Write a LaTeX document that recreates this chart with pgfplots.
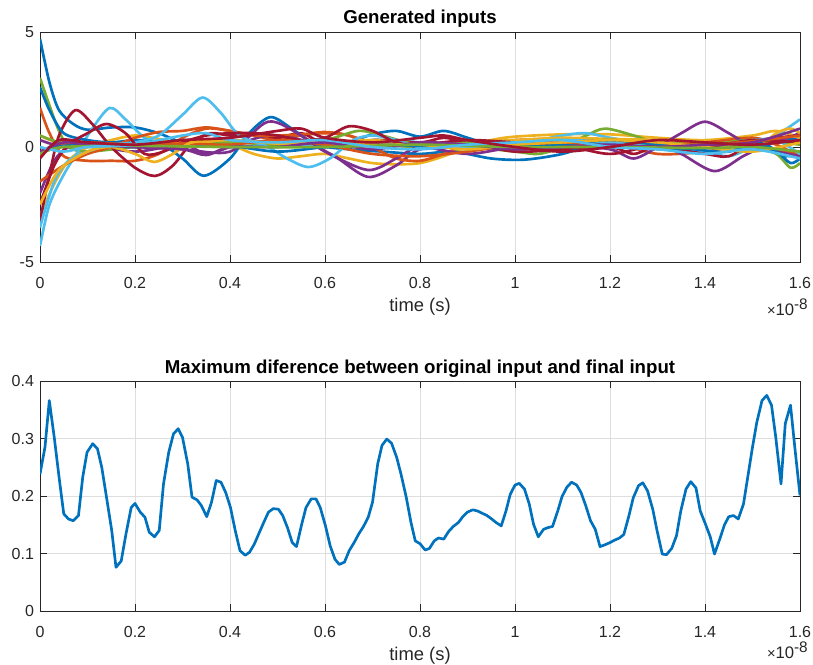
\documentclass[border=0pt]{standalone}
\usepackage{fontspec}
\setmainfont{Liberation Sans}
\usepackage{pgfplots}
\pgfplotsset{compat=1.18}
\definecolor{mb}{HTML}{0072BD}
\definecolor{mo}{HTML}{D95319}
\definecolor{my}{HTML}{EDB120}
\definecolor{mp}{HTML}{7E2F8E}
\definecolor{mg}{HTML}{77AC30}
\definecolor{mc}{HTML}{4DBEEE}
\definecolor{mr}{HTML}{A2142F}
\definecolor{axc}{HTML}{262626}
\pgfplotsset{
  mstyle/.style={
    width=570pt, height=172.5pt, scale only axis,
    xmin=0, xmax=1.6,
    xtick={0,0.2,0.4,0.6,0.8,1,1.2,1.4,1.6},
    xticklabels={0,0.2,0.4,0.6,0.8,1,1.2,1.4,1.6},
    grid=major,
    grid style={color=black!13, line width=0.5pt},
    axis line style={color=axc, line width=0.6pt},
    tick style={color=axc, line width=0.6pt},
    tick align=inside,
    major tick length=5pt,
    /pgf/number format/assume math mode=true,
    ticklabel style={font=\fontsize{12}{14}\selectfont, text=axc},
    xticklabel style={anchor=base, yshift=-19.5pt},
    yticklabel style={xshift=-1pt},
    xlabel style={font=\fontsize{13.8}{15}\selectfont, text=axc, at={(0.5,0)}, anchor=base, yshift=-37pt},
    title style={font=\fontsize{14}{16}\selectfont\bfseries, at={(0.5,1)}, anchor=base, yshift=0pt},
    every axis plot/.append style={line width=2pt, line join=round},
  }
}
\newcommand{\tenexp}{{\fontsize{11}{12}\selectfont ×}10\raisebox{0.65ex}{\fontsize{11.5}{12}\selectfont -8}}
\begin{document}
\begin{tikzpicture}
\begin{axis}[mstyle, name=ax1, ymin=-5, ymax=5, ytick={-5,0,5},
  title={Generated inputs}, xlabel={time (s)}]
% blue 1
\addplot[mb, smooth] coordinates {(0,4.7) (0.02,2.8) (0.04,1.6) (0.07,1.0) (0.1,0.75) (0.15,0.85) (0.2,0.85) (0.25,0.6) (0.3,0.2) (0.35,0.25) (0.4,0.3) (0.45,0.2) (0.5,0.15) (0.55,0.1) (0.6,0) (0.65,0.2) (0.7,0.55) (0.75,0.7) (0.8,0.45) (0.85,0.7) (0.9,0.4) (0.95,0.1) (1.0,0.05) (1.1,0.2) (1.2,0.3) (1.3,0.15) (1.4,0) (1.5,0.2) (1.55,0.4) (1.6,0.3)};
% orange 1
\addplot[mo, smooth] coordinates {(0,1.7) (0.02,0.6) (0.05,-0.4) (0.1,-0.6) (0.15,-0.6) (0.2,-0.6) (0.25,-0.3) (0.3,0.4) (0.35,0.8) (0.4,0.7) (0.45,0.5) (0.5,0.3) (0.55,0.5) (0.6,0.6) (0.65,0.5) (0.7,0.2) (0.8,0.0) (0.9,0.1) (1.0,-0.1) (1.1,0.0) (1.2,0.2) (1.3,-0.3) (1.4,-0.2) (1.5,0.1) (1.6,-0.4)};
% yellow 1
\addplot[my, smooth] coordinates {(0,-3.0) (0.03,-1.6) (0.06,-0.6) (0.1,0.0) (0.15,0.3) (0.2,0.5) (0.25,0.35) (0.3,0.15) (0.35,0.2) (0.4,0.1) (0.45,-0.3) (0.5,-0.5) (0.55,-0.4) (0.6,-0.3) (0.65,-0.5) (0.7,-0.7) (0.75,-0.75) (0.8,-0.7) (0.85,-0.4) (0.9,0.0) (0.95,0.3) (1.0,0.45) (1.1,0.55) (1.2,0.55) (1.3,0.4) (1.4,0.3) (1.5,0.5) (1.55,0.7) (1.6,0.4)};
% purple 1
\addplot[mp, smooth] coordinates {(0,-2.0) (0.03,-0.6) (0.06,0.0) (0.1,0.1) (0.2,-0.2) (0.3,0.1) (0.35,-0.3) (0.4,0.0) (0.48,0.5) (0.55,0.3) (0.62,-0.4) (0.69,-1.3) (0.75,-0.8) (0.8,-0.1) (0.9,0.2) (1.0,0.1) (1.1,0.0) (1.2,0.0) (1.3,0.1) (1.35,-0.3) (1.42,-1.05) (1.48,-0.4) (1.52,0.0) (1.56,0.3) (1.6,0.6)};
% green 1
\addplot[mg, smooth] coordinates {(0,3.0) (0.02,1.8) (0.04,0.7) (0.06,0.0) (0.1,-0.2) (0.2,0.0) (0.3,0.05) (0.4,0.0) (0.5,0.1) (0.6,0.1) (0.7,0.1) (0.8,0.0) (0.9,0.0) (1.0,-0.2) (1.05,-0.3) (1.1,0.0) (1.15,0.5) (1.19,0.8) (1.25,0.5) (1.3,0.2) (1.4,0.2) (1.5,0.0) (1.55,-0.3) (1.58,-0.9) (1.6,-0.7)};
% light blue 1
\addplot[mc, smooth] coordinates {(0,-4.3) (0.02,-2.5) (0.05,-1.2) (0.08,-0.2) (0.11,0.8) (0.147,1.7) (0.18,1.2) (0.22,0.4) (0.26,0.1) (0.3,0.3) (0.35,0.2) (0.4,0.0) (0.5,0.1) (0.6,0.0) (0.7,0.3) (0.8,0.2) (0.9,-0.1) (1.0,0.1) (1.1,0.5) (1.15,0.6) (1.2,0.4) (1.3,0.1) (1.4,-0.2) (1.45,-0.4) (1.5,0.0) (1.55,0.5) (1.6,1.2)};
% dark red 1
\addplot[mr, smooth] coordinates {(0,-3.2) (0.02,-1.2) (0.04,0.5) (0.074,1.6) (0.11,1.0) (0.15,0.0) (0.2,-0.9) (0.242,-1.26) (0.28,-0.8) (0.32,0.2) (0.36,0.6) (0.4,0.5) (0.45,0.6) (0.5,0.4) (0.55,0.6) (0.6,0.1) (0.65,0.0) (0.7,0.3) (0.8,0.2) (0.85,0.4) (0.9,0.2) (1.0,-0.2) (1.1,-0.1) (1.2,0.0) (1.25,-0.3) (1.3,0.0) (1.4,-0.3) (1.45,-0.4) (1.5,0.2) (1.55,0.4) (1.6,0.5)};
% blue 2
\addplot[mb, smooth] coordinates {(0,2.6) (0.02,1.6) (0.05,0.6) (0.1,0.3) (0.15,0.2) (0.2,0.3) (0.25,0.2) (0.3,-0.5) (0.345,-1.25) (0.4,-0.5) (0.44,0.6) (0.485,1.3) (0.53,0.8) (0.58,0.1) (0.65,-0.1) (0.72,-0.2) (0.8,-0.3) (0.87,-0.2) (0.95,-0.5) (1.02,-0.55) (1.1,-0.3) (1.18,0.2) (1.25,0.0) (1.32,-0.1) (1.4,0.0) (1.47,0.3) (1.52,0.2) (1.57,-0.4) (1.6,-0.2)};
% orange 2
\addplot[mo, smooth] coordinates {(0,-1.5) (0.05,-0.8) (0.1,-0.3) (0.15,0.0) (0.2,0.4) (0.25,0.65) (0.3,0.7) (0.35,0.85) (0.4,0.7) (0.45,0.5) (0.5,0.5) (0.55,0.55) (0.6,0.65) (0.65,0.5) (0.7,0.0) (0.75,-0.5) (0.8,-0.6) (0.85,-0.3) (0.9,0.1) (1.0,0.3) (1.1,0.35) (1.2,0.25) (1.3,0.1) (1.4,0.2) (1.5,0.4) (1.55,0.1) (1.6,-0.4)};
% yellow 2
\addplot[my, smooth] coordinates {(0,0.5) (0.03,0.25) (0.08,0.15) (0.15,0.1) (0.2,0.15) (0.3,0.2) (0.4,0.2) (0.5,0.25) (0.6,0.2) (0.7,0.3) (0.8,0.1) (0.9,0.2) (1.0,0.3) (1.1,0.4) (1.2,0.35) (1.3,0.3) (1.4,0.2) (1.5,-0.1) (1.55,0.6) (1.58,0.8) (1.6,0.6)};
% purple 2
\addplot[mp, smooth] coordinates {(0,0.3) (0.05,0.0) (0.1,0.1) (0.2,0.0) (0.3,-0.1) (0.4,-0.2) (0.48,1.1) (0.55,0.5) (0.6,-0.2) (0.69,-1.0) (0.75,-0.5) (0.8,0.0) (0.9,-0.3) (1.0,0.0) (1.1,0.1) (1.2,-0.1) (1.25,-0.5) (1.3,0.0) (1.35,0.6) (1.4,1.1) (1.45,0.6) (1.5,0.0) (1.55,-0.2) (1.6,-0.4)};
% green 2
\addplot[mg, smooth] coordinates {(0,0.5) (0.04,0.2) (0.1,0.0) (0.2,0.1) (0.3,0.0) (0.4,0.2) (0.5,0.1) (0.6,0.3) (0.67,0.7) (0.72,0.5) (0.8,0.1) (0.9,0.2) (1.0,0.1) (1.1,0.2) (1.2,0.3) (1.3,0.1) (1.4,0.1) (1.5,0.3) (1.6,0.1)};
% light blue 2
\addplot[mc, smooth] coordinates {(0,-3.5) (0.03,-1.5) (0.06,-0.6) (0.1,-0.2) (0.15,0.1) (0.2,0.2) (0.25,0.5) (0.3,1.4) (0.342,2.15) (0.38,1.5) (0.42,0.5) (0.48,0.0) (0.52,-0.5) (0.565,-0.87) (0.61,-0.5) (0.66,0.3) (0.7,0.5) (0.75,0.3) (0.8,0.0) (0.9,0.0) (1.0,0.1) (1.1,0.3) (1.2,0.2) (1.3,0.0) (1.4,0.0) (1.5,0.3) (1.55,0.3) (1.6,-0.3)};
% dark red 2
\addplot[mr, smooth] coordinates {(0,-2.5) (0.03,-0.8) (0.06,0.1) (0.1,0.6) (0.14,1.0) (0.18,0.6) (0.22,-0.3) (0.26,-0.2) (0.3,0.2) (0.35,0.5) (0.4,0.6) (0.45,0.6) (0.5,0.5) (0.55,0.3) (0.6,0.4) (0.65,0.9) (0.7,0.7) (0.75,0.2) (0.8,0.1) (0.9,0.3) (1.0,0.2) (1.1,0.1) (1.2,-0.3) (1.3,0.1) (1.4,0.0) (1.5,0.3) (1.6,0.2)};
% blue 3
\addplot[mb, smooth] coordinates {(0,-0.3) (0.04,0.1) (0.1,0.05) (0.2,0) (0.3,0.1) (0.4,0.05) (0.5,-0.2) (0.6,0) (0.7,0.15) (0.8,0.05) (0.9,0.1) (1.0,0) (1.1,0.1) (1.2,0.3) (1.3,0.1) (1.4,-0.15) (1.45,-0.2) (1.5,0.1) (1.55,-0.2) (1.58,-0.7) (1.6,-0.5)};
% orange 3
\addplot[mo, smooth] coordinates {(0,-0.4) (0.03,0.1) (0.1,0.2) (0.2,0.1) (0.3,0.15) (0.4,0.1) (0.5,0.3) (0.6,0.1) (0.7,-0.3) (0.8,-0.4) (0.9,-0.2) (1.0,0.1) (1.1,0.2) (1.2,0.05) (1.3,0.0) (1.4,0.1) (1.5,0.25) (1.6,0.5)};
% yellow 3
\addplot[my, smooth] coordinates {(0,-2.5) (0.04,-1.0) (0.1,-0.2) (0.15,0.0) (0.2,-0.3) (0.24,-0.65) (0.28,-0.3) (0.32,0.2) (0.4,0.3) (0.5,0.15) (0.6,0.2) (0.7,0.1) (0.8,0.1) (0.9,-0.1) (1.0,0.1) (1.1,0.2) (1.2,0.3) (1.3,0.2) (1.4,0.0) (1.5,-0.2) (1.6,0.2)};
% purple 3
\addplot[mp, smooth] coordinates {(0,-0.2) (0.05,0.2) (0.1,0.1) (0.2,0.0) (0.3,-0.1) (0.35,-0.35) (0.4,0.0) (0.5,0.0) (0.6,0.2) (0.7,-0.1) (0.8,0.2) (0.9,0.1) (1.0,-0.1) (1.1,0.0) (1.2,0.1) (1.3,0.0) (1.4,0.1) (1.5,0.2) (1.6,0.8)};
% green 3
\addplot[mg, smooth] coordinates {(0,-0.3) (0.05,0.0) (0.2,0.05) (0.4,0.0) (0.6,0.0) (0.8,0.1) (1.0,0.0) (1.2,0.0) (1.4,-0.05) (1.5,0.0) (1.6,-0.2)};
% light blue 3
\addplot[mc, smooth] coordinates {(0,0.0) (0.05,-0.2) (0.1,0.0) (0.2,0.1) (0.3,0.5) (0.35,0.6) (0.4,0.3) (0.5,0.2) (0.6,0.3) (0.7,0.0) (0.8,-0.1) (0.9,0.1) (1.0,0.2) (1.1,0.3) (1.2,0.0) (1.3,-0.1) (1.4,-0.3) (1.5,-0.1) (1.6,-0.5)};
% dark red 3
\addplot[mr, smooth] coordinates {(0,-0.5) (0.04,0.3) (0.1,0.2) (0.2,0.1) (0.3,0.3) (0.4,0.4) (0.5,0.7) (0.55,0.8) (0.6,0.4) (0.7,0.2) (0.8,0.4) (0.85,0.5) (0.9,0.3) (1.0,0.0) (1.1,-0.2) (1.2,0.0) (1.3,0.3) (1.4,0.2) (1.5,0.1) (1.6,0.3)};
\end{axis}
\node[anchor=base east, text=axc, font=\fontsize{12.5}{14}\selectfont, inner sep=0pt] at ([xshift=6pt, yshift=-40pt]ax1.south east) {\tenexp};
\begin{axis}[mstyle, name=ax2, at={(ax1.south west)}, anchor=north west, yshift=-89.25pt,
  ymin=0, ymax=0.4, ytick={0,0.1,0.2,0.3,0.4},
  yticklabels={0,0.1,0.2,0.3,0.4},
  title={Maximum diference between original input and final input}, xlabel={time (s)}]
\addplot[mb] coordinates {(0,0.238) (0.0105,0.285) (0.0196,0.366) (0.030,0.302) (0.041,0.227) (0.050,0.169) (0.060,0.160) (0.070,0.157) (0.081,0.166) (0.090,0.233) (0.099,0.276) (0.111,0.291) (0.121,0.282) (0.130,0.250) (0.140,0.198) (0.151,0.140) (0.160,0.076) (0.171,0.087) (0.181,0.134) (0.192,0.180) (0.200,0.187) (0.211,0.172) (0.221,0.163) (0.230,0.137) (0.241,0.129) (0.251,0.140) (0.260,0.221) (0.271,0.276) (0.281,0.308) (0.291,0.317) (0.300,0.302) (0.311,0.256) (0.320,0.198) (0.331,0.193) (0.340,0.183) (0.351,0.164) (0.361,0.189) (0.371,0.227) (0.381,0.224) (0.391,0.206) (0.401,0.180) (0.411,0.140) (0.421,0.105) (0.432,0.097) (0.441,0.102) (0.451,0.116) (0.462,0.137) (0.471,0.154) (0.481,0.172) (0.491,0.178) (0.502,0.177) (0.511,0.166) (0.521,0.145) (0.531,0.119) (0.540,0.112) (0.551,0.151) (0.560,0.180) (0.571,0.195) (0.581,0.195) (0.590,0.180) (0.601,0.148) (0.611,0.113) (0.621,0.090) (0.630,0.081) (0.641,0.085) (0.651,0.105) (0.662,0.120) (0.671,0.134) (0.681,0.147) (0.691,0.163) (0.700,0.189) (0.711,0.256) (0.720,0.288) (0.730,0.299) (0.740,0.292) (0.751,0.267) (0.760,0.238) (0.771,0.198) (0.781,0.154) (0.790,0.122) (0.800,0.117) (0.811,0.106) (0.820,0.109) (0.830,0.122) (0.839,0.127) (0.850,0.125) (0.860,0.138) (0.870,0.147) (0.881,0.154) (0.890,0.164) (0.900,0.172) (0.911,0.176) (0.921,0.174) (0.931,0.170) (0.941,0.166) (0.951,0.160) (0.960,0.154) (0.971,0.148) (0.981,0.174) (0.990,0.203) (1.000,0.219) (1.009,0.222) (1.020,0.212) (1.030,0.186) (1.039,0.151) (1.049,0.129) (1.060,0.142) (1.069,0.145) (1.079,0.147) (1.090,0.174) (1.099,0.199) (1.109,0.215) (1.119,0.224) (1.130,0.219) (1.139,0.206) (1.149,0.183) (1.159,0.157) (1.169,0.142) (1.179,0.112) (1.189,0.115) (1.200,0.119) (1.209,0.123) (1.220,0.127) (1.229,0.133) (1.239,0.163) (1.249,0.197) (1.260,0.218) (1.269,0.223) (1.279,0.209) (1.290,0.177) (1.299,0.140) (1.310,0.099) (1.319,0.098) (1.330,0.109) (1.340,0.131) (1.349,0.174) (1.360,0.212) (1.370,0.225) (1.381,0.214) (1.390,0.174) (1.401,0.151) (1.411,0.129) (1.420,0.099) (1.431,0.125) (1.441,0.150) (1.450,0.164) (1.460,0.166) (1.470,0.160) (1.481,0.186) (1.490,0.233) (1.500,0.285) (1.509,0.328) (1.520,0.366) (1.530,0.375) (1.540,0.358) (1.549,0.302) (1.560,0.221) (1.569,0.326) (1.580,0.358) (1.589,0.285) (1.600,0.201)};
\end{axis}
\node[anchor=base east, text=axc, font=\fontsize{12.5}{14}\selectfont, inner sep=0pt] at ([xshift=6pt, yshift=-35.5pt]ax2.south east) {\tenexp};
\pgfresetboundingbox
\path[use as bounding box] (ax1.north west) ++(-30pt,24pt) rectangle ++(609.75pt,-498pt);
\end{tikzpicture}
\end{document}
